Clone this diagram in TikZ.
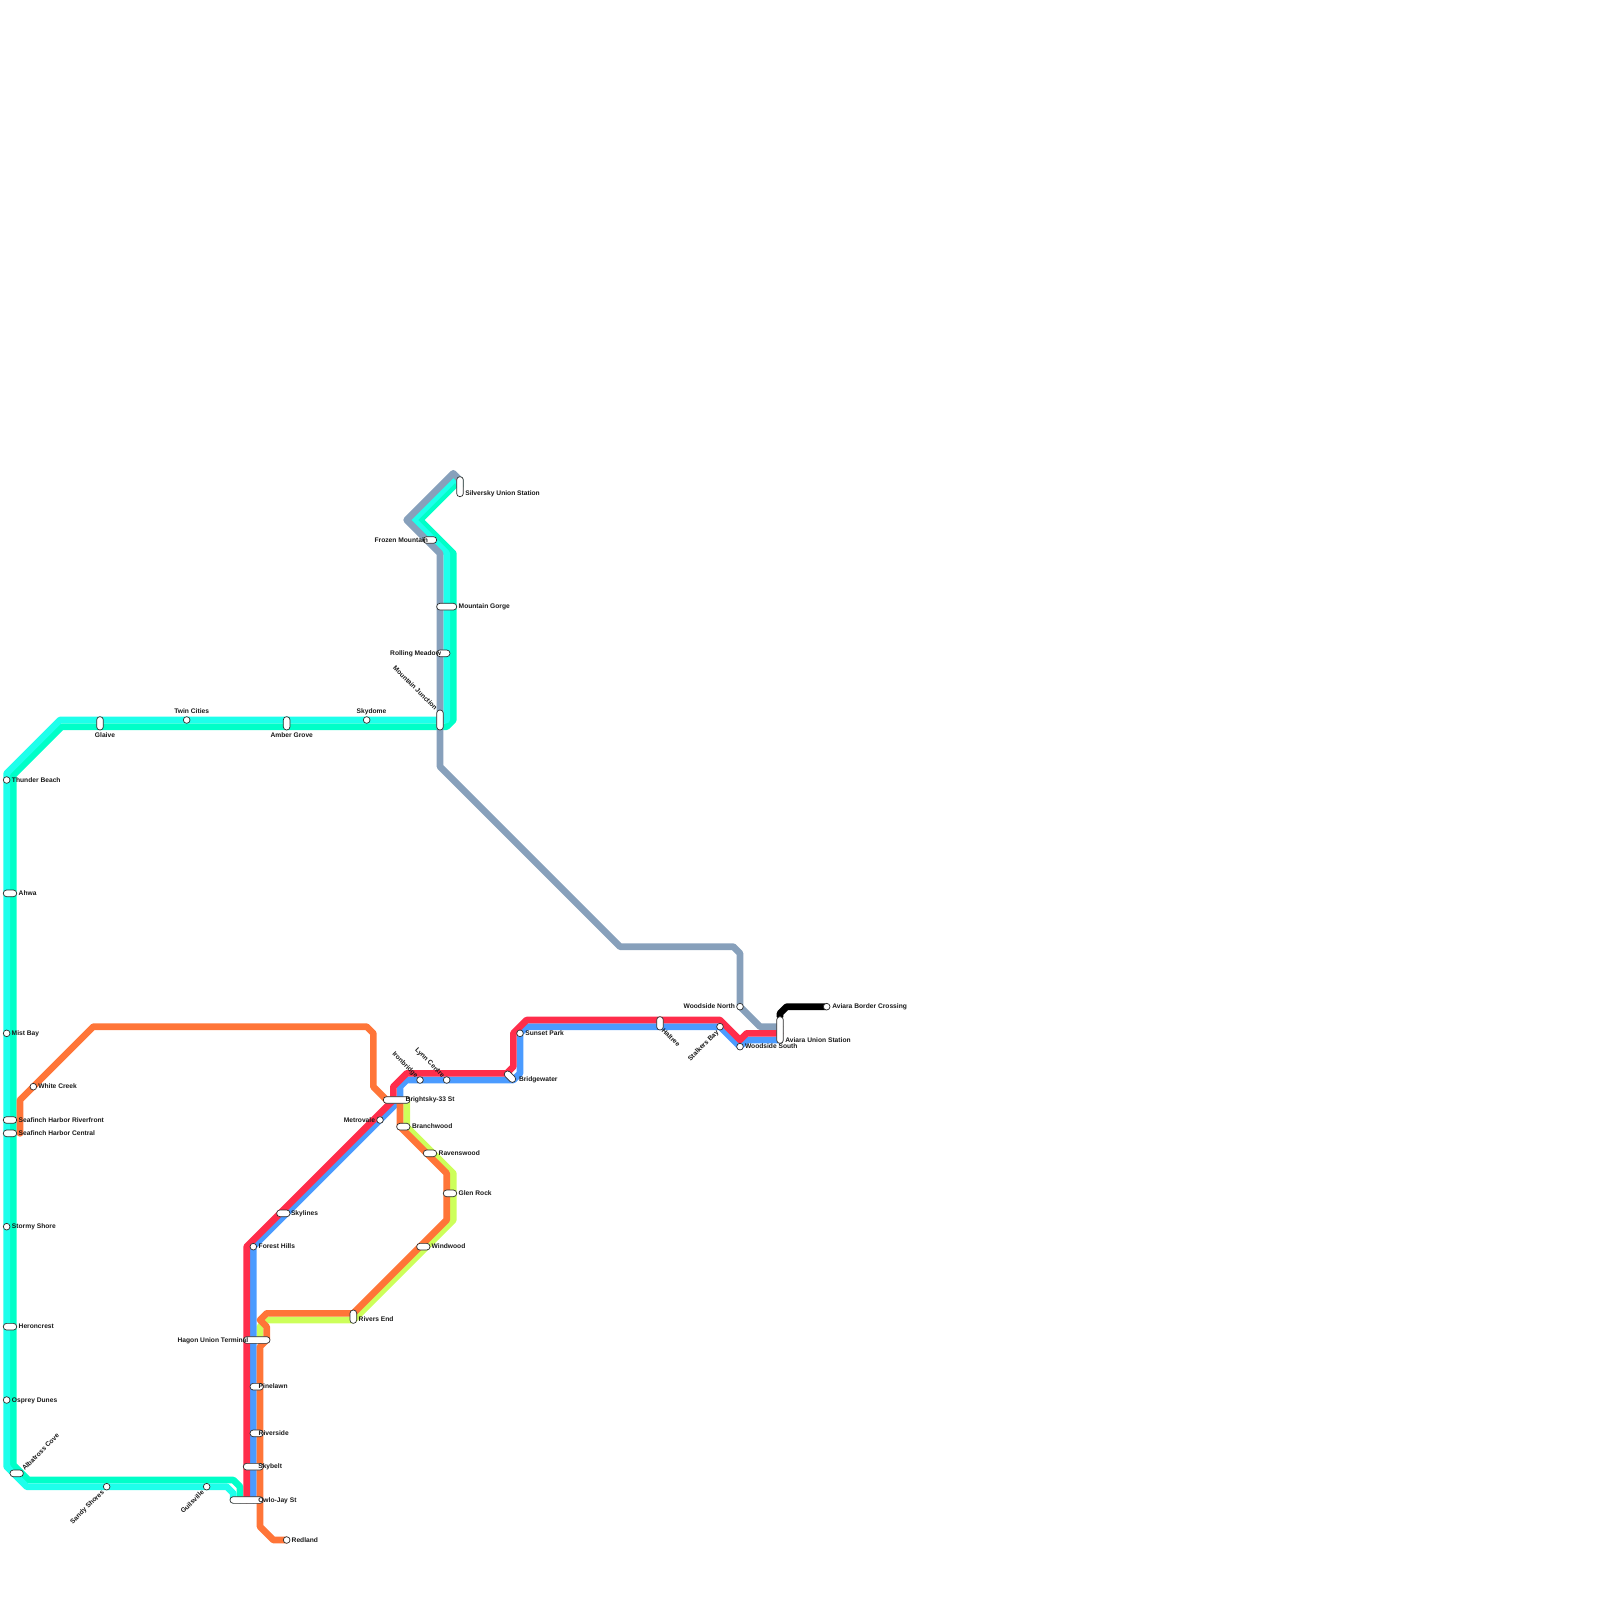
\documentclass[tikz,border=0pt]{standalone}
\usepackage{fontspec}
\setmainfont{Liberation Sans}
\usetikzlibrary{backgrounds}
\definecolor{cyanL}{RGB}{30,255,235}
\definecolor{cyanG}{RGB}{0,255,200}
\definecolor{mred}{RGB}{255,45,75}
\definecolor{mblue}{RGB}{75,155,255}
\definecolor{morange}{RGB}{255,117,56}
\definecolor{mlime}{RGB}{205,255,90}
\definecolor{mgrey}{RGB}{135,160,187}
\definecolor{edgec}{RGB}{45,45,45}
\tikzset{
  pill/.style 2 args={draw=edgec,line width=0.7pt,fill=white,rounded corners=3.2pt,minimum width=#1pt,minimum height=#2pt,inner sep=0pt,outer sep=0pt},
  dotst/.style={draw=edgec,line width=0.7pt,fill=white,circle,minimum size=6.67pt,inner sep=0pt,outer sep=0pt},
  lab/.style={inner sep=0pt,outer sep=0pt,text height=5.4pt,text depth=0pt,text=black!90,font=\fontsize{6.67pt}{8pt}\selectfont\bfseries},
  lw/.style={lab,anchor=west},
  le/.style={lab,anchor=east},
  lc/.style={lab,anchor=center},
  mline/.style={line width=6.67pt,line join=round,line cap=round}
}
\begin{document}
\begin{tikzpicture}[x=1pt,y=-1pt]
\useasboundingbox (0,0) rectangle (1600,1600);
% free ends of lines
\coordinate (eL) at (233.33,1500);
\coordinate (eG) at (240,1500);
\coordinate (eR) at (246.67,1500);
\coordinate (eB) at (253.33,1500);
\coordinate (eA) at (780,1040);
\coordinate (eA2) at (780,1033.33);
\coordinate (eA3) at (780,1026.67);
\coordinate (eA4) at (780,1016.67);
\coordinate (eS) at (20,1133.33);
\coordinate (eH) at (260,1340);
\coordinate (eBr) at (406.67,1100);
% stations
\node[dotst] (thunder) at (6.67,780) {};
\node[pill={13.33}{6.67}] (ahwa) at (10,893.33) {};
\node[dotst] (mist) at (6.67,1033.33) {};
\node[dotst] (white) at (33.33,1086.67) {};
\node[pill={13.33}{6.67}] (sfr) at (10,1120) {};
\node[pill={13.33}{6.67}] (sfc) at (10,1133.33) {};
\node[dotst] (stormy) at (6.67,1226.67) {};
\node[pill={13.33}{6.67}] (heron) at (10,1326.67) {};
\node[dotst] (osprey) at (6.67,1400) {};
\node[pill={13.33}{6.67}] (albatross) at (16.67,1473.33) {};
\node[dotst] (sandy) at (106.67,1486.67) {};
\node[dotst] (guils) at (206.67,1486.67) {};
\node[pill={33.33}{6.67}] (owlo) at (246.67,1500) {};
\node[pill={20}{6.67}] (skybelt) at (253.33,1466.67) {};
\node[pill={13.33}{6.67}] (riverside) at (256.67,1433.33) {};
\node[pill={13.33}{6.67}] (pinelawn) at (256.67,1386.67) {};
\node[pill={26.67}{6.67}] (hagon) at (256.67,1340) {};
\node[dotst] (forest) at (253.33,1246.67) {};
\node[dotst] (redland) at (286.67,1540) {};
\node[pill={6.67}{13.33}] (rivers) at (353.33,1316.67) {};
\node[pill={13.33}{6.67}] (skylines) at (283.33,1213.33) {};
\node[pill={13.33}{6.67}] (windwood) at (423.33,1246.67) {};
\node[pill={13.33}{6.67}] (glen) at (450,1193.33) {};
\node[pill={13.33}{6.67}] (ravens) at (430,1153.33) {};
\node[pill={13.33}{6.67}] (branch) at (403.33,1126.67) {};
\node[pill={26.67}{6.67}] (bright) at (396.67,1100) {};
\node[dotst] (metro) at (380,1120) {};
\node[dotst] (iron) at (420,1080) {};
\node[dotst] (lynn) at (446.67,1080) {};
\node[pill={13.33}{6.67},rotate=-45] (bridge) at (510,1076.67) {};
\node[dotst] (sunset) at (520,1033.33) {};
\node[pill={6.67}{13.33}] (haltree) at (660,1023.33) {};
\node[dotst] (stalkers) at (720,1026.67) {};
\node[dotst] (wsouth) at (740,1046.67) {};
\node[dotst] (wnorth) at (740,1006.67) {};
\node[pill={6.67}{26.67}] (aviara) at (780,1030) {};
\node[dotst] (border) at (826.67,1006.67) {};
\node[pill={6.67}{20}] (silver) at (460,486.67) {};
\node[pill={13.33}{6.67}] (frozen) at (430,540) {};
\node[pill={20}{6.67}] (gorge) at (446.67,606.67) {};
\node[pill={13.33}{6.67}] (rolling) at (443.33,653.33) {};
\node[pill={6.67}{20}] (junction) at (440,720) {};
\node[dotst] (skydome) at (366.67,720) {};
\node[dotst] (twin) at (186.67,720) {};
\node[pill={6.67}{13.33}] (glaive) at (100,723.33) {};
\node[pill={6.67}{13.33}] (amber) at (286.67,723.33) {};
% lines
\begin{scope}[on background layer]
\draw[mline,cyanG] (eG) -- (240,1486.67) -- (233.33,1480) -- (28.33,1480) -- (13.33,1465) -- (13.33,775) -- (61.67,726.67) -- (446.67,726.67) -- (453.33,720) -- (453.33,553.33) -- (420,520) -- (460,480) -- (silver.center);
\draw[mline,cyanL] (eL) -- (233.33,1493.33) -- (226.67,1486.67) -- (26.67,1486.67) -- (6.67,1466.67) -- (6.67,773.33) -- (60,720) -- (446.67,720) -- (446.67,553.33) -- (413.33,520) -- (456.67,476.67) -- (silver.center);
\draw[mline,mgrey] (silver.center) -- (460,480) -- (453.33,473.33) -- (406.67,520) -- (440,553.33) -- (440,766.67) -- (620,946.67) -- (733.33,946.67) -- (740,953.33) -- (wnorth.center) -- (760,1026.67) -- (eA3);
\draw[mline,mlime] (eH) -- (260,1326.67) -- (266.67,1320) -- (353.33,1320) -- (453.33,1220) -- (453.33,1173.33) -- (406.67,1126.67) -- (eBr);
\draw[mline,mblue] (eB) -- (forest.center) -- (400,1100) -- (400,1086.67) -- (406.67,1080) -- (513.33,1080) -- (520,1073.33) -- (sunset.center) -- (526.67,1026.67) -- (stalkers.center) -- (wsouth.center) -- (746.67,1040) -- (eA);
\draw[mline,mred] (eR) -- (246.67,1246.67) -- (393.33,1100) -- (393.33,1086.67) -- (406.67,1073.33) -- (506.67,1073.33) -- (513.33,1066.67) -- (513.33,1033.33) -- (526.67,1020) -- (720,1020) -- (740,1040) -- (746.67,1033.33) -- (eA2);
\draw[mline,morange] (redland.center) -- (273.33,1540) -- (260,1526.67) -- (260,1346.67) -- (266.67,1340) -- (266.67,1326.67) -- (260,1320) -- (266.67,1313.33) -- (353.33,1313.33) -- (446.67,1220) -- (446.67,1173.33) -- (400,1126.67) -- (400,1100) -- (386.67,1100) -- (373.33,1086.67) -- (373.33,1033.33) -- (366.67,1026.67) -- (93.33,1026.67) -- (20,1100) -- (eS);
\draw[mline,black] (eA4) -- (780,1013.33) -- (786.67,1006.67) -- (border.center);
\end{scope}
% labels
\node[lw] (lthunder) at (12,779.3) {Thunder Beach};
\node[lw] (lahwa) at (18.7,893) {Ahwa};
\node[lw] (lmist) at (11.7,1032.7) {Mist Bay};
\node[lw] (lwhite) at (38.3,1086) {White Creek};
\node[lw] (lsfr) at (18.7,1119.3) {Seafinch Harbor Riverfront};
\node[lw] (lsfc) at (18.7,1132.7) {Seafinch Harbor Central};
\node[lw] (lstormy) at (12,1226) {Stormy Shore};
\node[lw] (lheron) at (18.7,1326) {Heroncrest};
\node[lw] (losprey) at (12,1399.4) {Osprey Dunes};
\node[lw,rotate=45] (lalb) at (23,1469) {Albatross Cove};
\node[le,rotate=45] (lsandy) at (102.5,1491) {Sandy Shores};
\node[le,rotate=45] (lguils) at (202.5,1491) {Guilsville};
\node[lw] (lowlo) at (258.3,1499.3) {Owlo-Jay St};
\node[lw] (lsky) at (258.3,1466) {Skybelt};
\node[lw] (lriver) at (258.7,1432.7) {Riverside};
\node[lw] (lpine) at (258.7,1386) {Pinelawn};
\node[le] (lhagon) at (248.3,1339.3) {Hagon Union Terminal};
\node[lw] (lforest) at (258.7,1246) {Forest Hills};
\node[lw] (lred) at (291.7,1539.3) {Redland};
\node[lw] (lrivers) at (358.7,1319) {Rivers End};
\node[lw] (lskyl) at (291,1212.7) {Skylines};
\node[lw] (lwind) at (431.7,1246) {Windwood};
\node[lw] (lglen) at (458.7,1192.7) {Glen Rock};
\node[lw] (lrav) at (438.7,1152.7) {Ravenswood};
\node[lw] (lbranch) at (412,1126) {Branchwood};
\node[lw] (lbright) at (405.7,1099) {Brightsky-33 St};
\node[le] (lmetro) at (375,1119.3) {Metrovale};
\node[le,rotate=-45] (liron) at (417.3,1076) {Ironbridge};
\node[le,rotate=-45] (llynn) at (444,1076) {Lynn Centre};
\node[lw] (lbridge) at (519,1079) {Bridgewater};
\node[lw] (lsunset) at (525.3,1032.7) {Sunset Park};
\node[lw,rotate=-45] (lhalt) at (663.3,1029.3) {Haltree};
\node[le,rotate=45] (lstalk) at (717,1031) {Stalkers Bay};
\node[le] (lwn) at (735,1005.7) {Woodside North};
\node[lw] (lws) at (745,1046) {Woodside South};
\node[lw] (lav) at (785.3,1039.3) {Aviara Union Station};
\node[lw] (lbord) at (832.3,1006) {Aviara Border Crossing};
\node[lw] (lsilver) at (465.3,492.7) {Silversky Union Station};
\node[le] (lfrozen) at (428,539.3) {Frozen Mountain};
\node[lw] (lgorge) at (458.7,606) {Mountain Gorge};
\node[le] (lroll) at (441,652.7) {Rolling Meadow};
\node[le,rotate=-45] (ljunc) at (436.5,708.5) {Mountain Junction};
\node[lc] (lskyd) at (371.5,710.7) {Skydome};
\node[lc] (ltwin) at (191.7,710.7) {Twin Cities};
\node[lc] (lglaive) at (105,734.3) {Glaive};
\node[lc] (lamber) at (291.8,734.3) {Amber Grove};
\end{tikzpicture}
\end{document}
